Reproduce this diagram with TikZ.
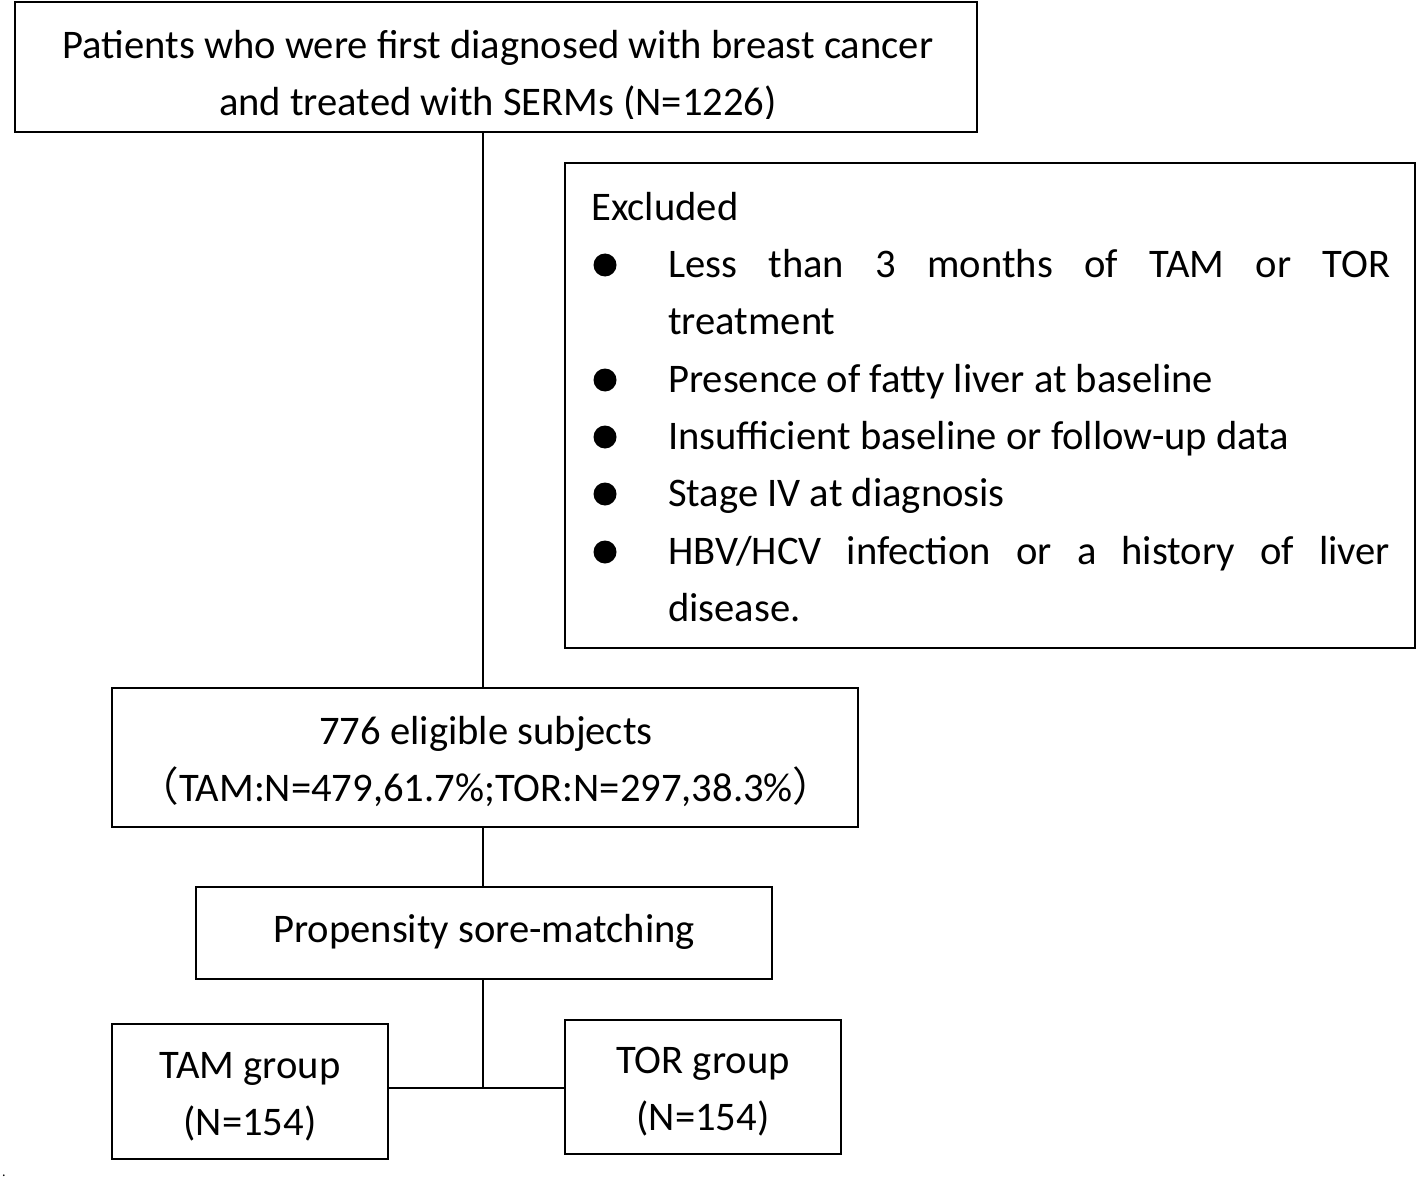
\documentclass[tikz,border=0pt]{standalone}
\usepackage{fontspec}
\setmainfont{Carlito}
\newfontfamily\cjk{Noto Sans CJK SC}
\usepackage{tikz}
\usetikzlibrary{positioning,calc}
\tikzset{
    flowbox/.style={
        rectangle,
        draw,
        line width=2pt,
        inner sep=0pt
    },
    flowtext/.style={
        font=\fontsize{40.6}{57}\selectfont,
        inner sep=0pt,
        align=center
    },
    itemtext/.style={
        flowtext,
        anchor=west
    },
    bulletdot/.style={
        circle,
        fill=black,
        inner sep=0pt,
        minimum size=23pt
    },
    conn/.style={
        line width=2pt
    }
}

\begin{document}
\begin{tikzpicture}[x=1pt,y=-1pt]
        \useasboundingbox (0,0) rectangle (1418,1182);

        % Boxes
        \node[flowbox, minimum width=962pt, minimum height=130pt] (screen) at (496,67) {};
        \node[flowbox, minimum width=850pt, minimum height=485pt] (excl) at (990,405.5) {};
        \node[flowbox, minimum width=746pt, minimum height=139pt] (eligible) at (485,757.5) {};
        \node[flowbox, minimum width=576pt, minimum height=92pt] (match) at (484,933) {};
        \node[flowbox, minimum width=276pt, minimum height=135pt] (tam) at (250,1091.5) {};
        \node[flowbox, minimum width=276pt, minimum height=134pt] (tor) at (703,1087) {};

        % Box texts (second line of the top box is cut off at the bottom)
        \begin{scope}
            \clip (0,0) rectangle (1418,119);
            \node[flowtext] (screentxt) at (498,76) {\strut Patients who were first diagnosed with breast cancer\\\strut and treated with SERMs (N=1226)};
        \end{scope}
        \node[flowtext] (eligibletxt) at (486,762) {\strut 776 eligible subjects\\\strut{\cjk （}TAM:N=479,61.7\%;TOR:N=297,38.3\%{\cjk ）}};
        \node[flowtext] (matchtxt) at (484,931) {\strut Propensity sore-matching};
        \node[flowtext] (tamtxt) at (250,1096) {\strut TAM group\\\strut (N=154)};
        \node[flowtext] (tortxt) at (703,1091) {\strut TOR group\\\strut (N=154)};

        % Exclusion list
        \node[itemtext] (excltitle) at (591,209) {\strut Excluded};
        \node[bulletdot] (b1) at (605,265) {};
        \node[bulletdot] (b2) at (605,380) {};
        \node[bulletdot] (b3) at (605,437) {};
        \node[bulletdot] (b4) at (605,494) {};
        \node[bulletdot] (b5) at (605,552) {};
        \node[itemtext] (e1a) at (668,266) {\strut\makebox[722pt][s]{Less than 3 months of TAM or TOR}};
        \node[itemtext] (e1b) at (668,323) {\strut treatment};
        \node[itemtext] (e2) at (668,381) {\strut Presence of fatty liver at baseline};
        \node[itemtext] (e3) at (668,438) {\strut Insufficient baseline or follow-up data};
        \node[itemtext] (e4) at (668,495) {\strut Stage IV at diagnosis};
        \node[itemtext] (e5a) at (668,553) {\strut\makebox[722pt][s]{HBV/HCV infection or a history of liver}};
        \node[itemtext] (e5b) at (668,610) {\strut disease.};

        % Stray mark
        \node[inner sep=0pt, font=\fontsize{14}{16}\selectfont] (mark) at (4,1176) {.};

        % Connections
        \draw[conn] (eligible.north -| 483,0) -- (screen.south -| 483,0);
        \draw[conn] (eligible.south -| 483,0) -- (match.north -| 483,0);
        \draw[conn] (match.south -| 483,0) -- (483,1088) coordinate (split);
        \draw[conn] (tam.east |- split) -- (tor.west |- split);
    \end{tikzpicture}
\end{document}
